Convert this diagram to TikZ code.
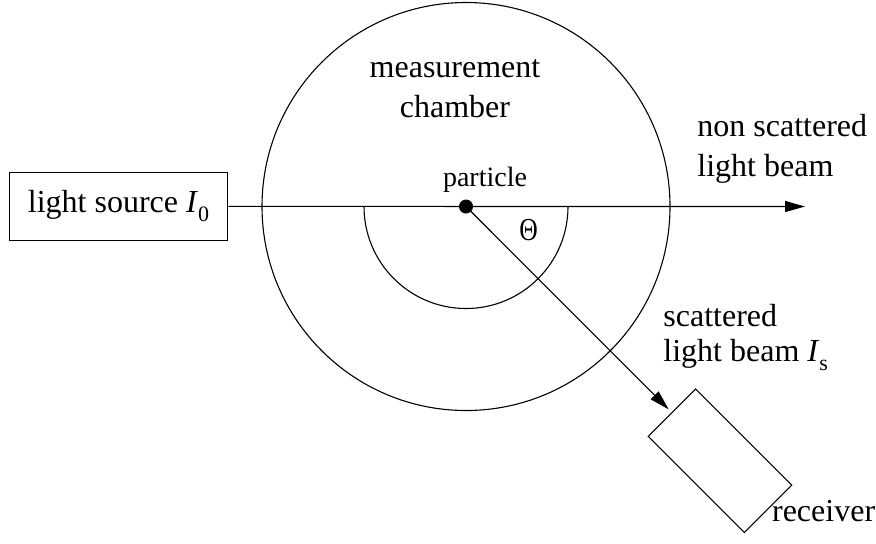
\documentclass[tikz,border=0pt]{standalone}
\usepackage{fontspec}
\setmainfont{Liberation Serif}
\usetikzlibrary{arrows.meta}
\newcommand{\subs}[1]{\raisebox{-4.5pt}{\fontsize{11}{11}\selectfont #1}}
\begin{document}
\begin{tikzpicture}[x=0.5pt,y=-0.5pt,
  lbl/.style={font=\fontsize{16}{20}\selectfont, inner sep=0pt},
  box/.style={draw, line width=0.55pt, inner sep=0pt},
  beam/.style={line width=0.55pt},
  tipped/.style={-{Triangle[length=10pt,width=5.5pt]}}]
\useasboundingbox (0,0) rectangle (876,543);
\coordinate (c) at (466,206.5);
% chamber
\draw[beam] (c) circle[radius=102pt];
\draw[beam] (c) ++(-51pt,0) arc[start angle=180, end angle=360, radius=51pt];
% light source
\node[box, minimum width=109.2pt, minimum height=33.7pt, lbl] (src) at (118.5,206.4)
  {light source \textit{I}\subs{0}};
% particle
\node[circle, fill, inner sep=0pt, minimum size=7pt] (p) at (c) {};
% receiver
\node[box, rotate=-45, minimum width=68pt, minimum height=33.5pt] (rcv) at (720,460.7) {};
% beams
\coordinate (nsend) at (805,206.5);
\draw[beam, tipped] (src.east) -- (nsend);
\draw[beam, tipped, shorten >=2pt] (p.center) -- (rcv.west);
% labels
\node[lbl, align=center, anchor=base] (mc) at (455,117) {measurement\\chamber};
\node[inner sep=0pt, font=\fontsize{14}{17}\selectfont, anchor=base] (pl) at (485,186.7) {particle};
\node[inner sep=0pt, font=\fontsize{16}{16}\selectfont] (th) at (528.7,230.3) {\scalebox{0.8}[1]{Θ}};
\node[lbl, align=left, anchor=base west] (ns) at (697,176.7) {non scattered\\light beam};
\node[lbl, align=left, anchor=base west] (sc) at (663,361.7) {scattered\\[-2.5pt]light beam \textit{I}\subs{s}};
\node[lbl, anchor=base west] (rl) at (771.7,521.7) {receiver};
\end{tikzpicture}
\end{document}
